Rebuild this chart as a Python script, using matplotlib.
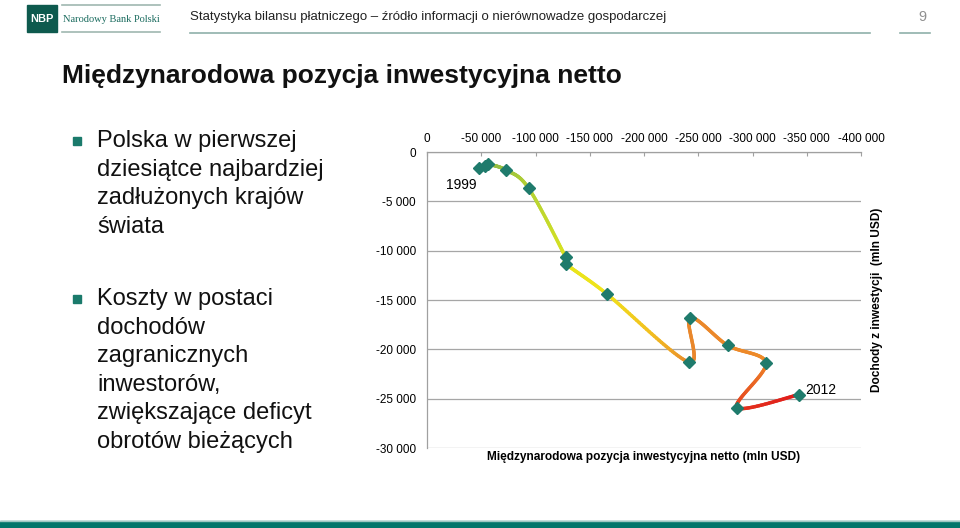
import numpy as np
import matplotlib
matplotlib.use("Agg")
import matplotlib.pyplot as plt
from matplotlib.collections import LineCollection
from matplotlib.patches import Rectangle
from matplotlib import font_manager
from matplotlib.colors import to_rgb
from matplotlib.ticker import FuncFormatter

# data (mln USD)
years = list(range(1999, 2013))
iip = [-48200, -53500, -56500, -72800, -93700, -127800, -128400, -165900,
       -241500, -242400, -277100, -312400, -285700, -342600]
income = [-1650, -1390, -1250, -1830, -3680, -10680, -11360, -14400,
          -21300, -16800, -19600, -21400, -25900, -24600]

x_ticks = [0, -50000, -100000, -150000, -200000, -250000, -300000, -350000, -400000]
y_ticks = [0, -5000, -10000, -15000, -20000, -25000, -30000]

bullet1 = ["Polska w pierwszej", "dziesiątce najbardziej", "zadłużonych krajów", "świata"]
bullet2 = ["Koszty w postaci", "dochodów", "zagranicznych", "inwestorów,",
           "zwiększające deficyt", "obrotów bieżących"]

# colour stops along the curve (index of point, colour)
stops = [(0, '#86b44c'), (3, '#98c040'), (4.3, '#bcd630'), (5, '#dce41e'),
         (7, '#f0e41a'), (7.5, '#f2c020'), (8, '#e8862c'), (11, '#ee8a28'),
         (12, '#e4381e'), (13, '#e01a1a')]

names = {f.name for f in font_manager.fontManager.ttflist}
narrow = 'Liberation Sans Narrow' if 'Liberation Sans Narrow' in names else 'Liberation Sans'
plt.rcParams['font.family'] = ['Liberation Sans', 'DejaVu Sans']

teal = '#1f7b6c'
fig = plt.figure(figsize=(9.6, 5.28), dpi=100)
W, H = 960, 528

def fx(p):
    return p / W

def fy(p):
    return 1 - p / H

# header
fig.patches.append(Rectangle((fx(27), fy(32)), 30 / W, 27 / H, transform=fig.transFigure,
                             color='#0e5a4e', zorder=2))
fig.text(fx(42), fy(19), "NBP", color='white', fontsize=8, fontweight='bold',
         ha='center', va='center')
for yy in (5, 32):
    fig.add_artist(plt.Line2D([fx(62), fx(160)], [fy(yy), fy(yy)], color='#9fb8b0', lw=1.2))
fig.text(fx(63), fy(19), "Narodowy Bank Polski", family='Liberation Serif', fontsize=7.5,
         color='#1a6b5e', va='center')
fig.text(fx(190), fy(17), "Statystyka bilansu płatniczego – źródło informacji o nierównowadze gospodarczej",
         family=narrow, fontsize=9.5, color='#222222', va='center')
fig.add_artist(plt.Line2D([fx(190), fx(870)], [fy(33), fy(33)], color='#8fb0aa', lw=1.2))
fig.add_artist(plt.Line2D([fx(900), fx(930)], [fy(33), fy(33)], color='#8fb0aa', lw=1.2))
fig.text(fx(922), fy(17), "9", family=narrow, fontsize=10.5, color='#909090',
         ha='center', va='center')

fig.text(fx(62), fy(76), "Międzynarodowa pozycja inwestycyjna netto", family=narrow,
         fontsize=19, fontweight='bold', color='#111111', va='center')

# left bullets
for lines, y0 in ((bullet1, 140), (bullet2, 298)):
    fig.patches.append(Rectangle((fx(73), fy(y0 + 5)), 8 / W, 8 / H, transform=fig.transFigure,
                                 color='#1a7a6b'))
    for k, s in enumerate(lines):
        fig.text(fx(97), fy(y0 + 1 + k * 28.6), s, fontsize=17, color='#111111', va='center')

# bottom band
fig.patches.append(Rectangle((0, 0), 1, 7 / H, transform=fig.transFigure, color='#00766a'))
fig.add_artist(plt.Line2D([0, 1], [fy(521), fy(521)], color='#9cc8c2', lw=1))

# chart
ax = fig.add_axes([fx(427), fy(448), (861 - 427) / W, (448 - 152) / H])
ax.set_xlim(0, -400000)
ax.set_ylim(-30000, 0)
ax.xaxis.tick_top()
ax.set_xticks(x_ticks)
ax.set_yticks(y_ticks)
fmt = FuncFormatter(lambda v, p: f"{int(v):,}".replace(",", " "))
ax.xaxis.set_major_formatter(fmt)
ax.yaxis.set_major_formatter(fmt)
ax.tick_params(axis='x', direction='in', length=3, color='#a0a0a0', pad=5, labelsize=8.5)
ax.tick_params(axis='y', length=0, pad=8, labelsize=8.5)
ax.grid(axis='y', color='#a6a6a6', lw=0.9)
for side in ('right', 'bottom'):
    ax.spines[side].set_visible(False)
for side in ('left', 'top'):
    ax.spines[side].set_color('#a0a0a0')
    ax.spines[side].set_linewidth(0.9)

# smoothed curve (Catmull-Rom in pixel space, like Excel smoothing)
sx, sy = 434 / 400000, 296 / 30000
P = np.column_stack([np.array(iip) * sx, np.array(income) * sy])
n = len(P)
pts, par = [], []
for i in range(n - 1):
    p0, p1, p2, p3 = P[max(i - 1, 0)], P[i], P[i + 1], P[min(i + 2, n - 1)]
    c1 = p1 + (p2 - p0) / 6
    c2 = p2 - (p3 - p1) / 6
    t = np.linspace(0, 1, 40)[:, None]
    b = (1 - t) ** 3 * p1 + 3 * (1 - t) ** 2 * t * c1 + 3 * (1 - t) * t ** 2 * c2 + t ** 3 * p2
    pts.append(b)
    par.append(i + t[:, 0])
pts = np.vstack(pts)
par = np.concatenate(par)
curve = np.column_stack([pts[:, 0] / sx, pts[:, 1] / sy])
segs = np.stack([curve[:-1], curve[1:]], axis=1)
mid = (par[:-1] + par[1:]) / 2
si = [s[0] for s in stops]
cols = np.array([to_rgb(s[1]) for s in stops])
seg_cols = np.column_stack([np.interp(mid, si, cols[:, c]) for c in range(3)])
lc = LineCollection(segs, colors=seg_cols, linewidths=2.5, capstyle='round', zorder=3)
ax.add_collection(lc)
ax.plot(iip, income, ls='none', marker='D', ms=6.5, color=teal, zorder=4)

ax.text(-48200 + 17000, -1650 - 1700, str(years[0]), fontsize=10, ha='center', va='center')
ax.text(-342600 - 20000, -24600 + 500, str(years[-1]), fontsize=10, ha='center', va='center')

ax.text(0.5, -9 / 296, "Międzynarodowa pozycja inwestycyjna netto (mln USD)", transform=ax.transAxes,
        fontsize=8.6, fontweight='bold', ha='center', va='center')
ax.text(1 + 16 / 434, 0.5, "Dochody z inwestycji  (mln USD)", transform=ax.transAxes,
        fontsize=8.6, fontweight='bold', rotation=90, ha='center', va='center')

fig.savefig("out.png", dpi=100, facecolor='white')
